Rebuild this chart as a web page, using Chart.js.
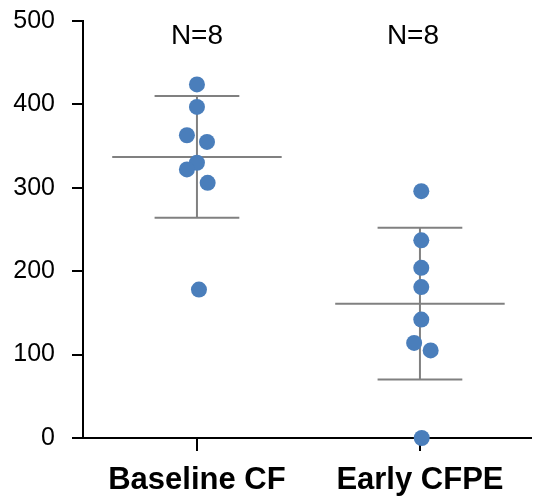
<!DOCTYPE html>
<html>
<head>
<meta charset="utf-8">
<script src="https://cdn.jsdelivr.net/npm/chart.js@4/dist/chart.umd.min.js"></script>
<style>
  html, body { margin: 0; padding: 0; background: #fff; }
  #wrap { width: 539px; height: 498px; }
</style>
</head>
<body>
<div id="wrap"><canvas id="chart"></canvas></div>
<script>
// Data
const categories = ['Baseline CF', 'Early CFPE'];
const baselineValues = [424, 397, 363, 355, 330, 322, 306, 178];
const baselineJitter = [0, 0, -0.045, 0.045, 0, -0.045, 0.048, 0.009];
const earlyValues = [296, 237, 204, 181, 142, 114, 105, 0];
const earlyJitter = [0.006, 0.006, 0.006, 0.006, 0.006, -0.026, 0.048, 0.008];
const groupMeans = [337, 161];
const groupSD = [73, 91];
const groupN = [8, 8];
const yTicks = [0, 100, 200, 300, 400, 500];

const FONT = "'Liberation Sans', Arial, sans-serif";
const DOT = '#4a7ebb';
const BAR = '#808080';

const toPoints = (values, jitter, cat) => values.map((v, i) => ({ x: cat + jitter[i], y: v }));

const segment = (x1, y1, x2, y2) => ({
  type: 'line',
  data: [{ x: x1, y: y1 }, { x: x2, y: y2 }],
  borderColor: BAR,
  borderWidth: 2,
  pointRadius: 0,
  fill: false,
  order: 2,
  clip: false
});

// mean line + SD whiskers for each group
const barSets = [];
groupMeans.forEach((m, i) => {
  const sd = groupSD[i];
  barSets.push(segment(i - 0.38, m, i + 0.38, m));
  barSets.push(segment(i, m - sd, i, m + sd));
  barSets.push(segment(i - 0.19, m + sd, i + 0.19, m + sd));
  barSets.push(segment(i - 0.19, m - sd, i + 0.19, m - sd));
});

const nLabels = {
  id: 'nLabels',
  afterDatasetsDraw(chart) {
    const { ctx, scales: { x, y } } = chart;
    ctx.save();
    ctx.font = `28px ${FONT}`;
    ctx.fillStyle = '#000';
    ctx.textAlign = 'center';
    ctx.textBaseline = 'alphabetic';
    groupN.forEach((n, i) => {
      ctx.fillText(`N=${n}`, x.getPixelForValue(i) - 7 * i, y.getPixelForValue(500) + 23);
    });
    ctx.restore();
  }
};

new Chart(document.getElementById('chart'), {
  type: 'scatter',
  data: {
    datasets: [
      {
        data: toPoints(baselineValues, baselineJitter, 0),
        backgroundColor: DOT,
        borderWidth: 0,
        pointRadius: 8,
        order: 0,
        clip: false
      },
      {
        data: toPoints(earlyValues, earlyJitter, 1),
        backgroundColor: DOT,
        borderWidth: 0,
        pointRadius: 8,
        order: 0,
        clip: false
      },
      ...barSets
    ]
  },
  options: {
    responsive: true,
    maintainAspectRatio: false,
    animation: false,
    devicePixelRatio: 1,
    layout: { padding: { top: 21, right: 0, bottom: 0, left: 0 } },
    plugins: { legend: { display: false }, tooltip: { enabled: false } },
    scales: {
      x: {
        type: 'linear',
        min: -0.511,
        max: 1.498,
        afterBuildTicks: (scale) => { scale.ticks = categories.map((c, i) => ({ value: i })); },
        afterFit: (scale) => {
          scale.height = 60;
          scale.paddingLeft = 0;
          scale.paddingRight = 0;
        },
        ticks: {
          callback: (v) => categories[v],
          color: '#000',
          font: { family: FONT, size: 31, weight: 'bold' },
          padding: 11,
          maxRotation: 0,
          autoSkip: false
        },
        grid: { drawOnChartArea: false, drawTicks: true, tickLength: 13, color: '#000', lineWidth: 2 },
        border: { display: true, color: '#000', width: 2 }
      },
      y: {
        min: 0,
        max: 500,
        afterBuildTicks: (scale) => { scale.ticks = yTicks.map(v => ({ value: v })); },
        afterFit: (scale) => {
          scale.width = 83;
          scale.paddingTop = 0;
          scale.paddingBottom = 0;
        },
        ticks: {
          color: '#000',
          font: { family: FONT, size: 25 },
          padding: 17
        },
        grid: { drawOnChartArea: false, drawTicks: true, tickLength: 11, color: '#000', lineWidth: 2 },
        border: { display: true, color: '#000', width: 2 }
      }
    }
  },
  plugins: [nLabels]
});
</script>
</body>
</html>
